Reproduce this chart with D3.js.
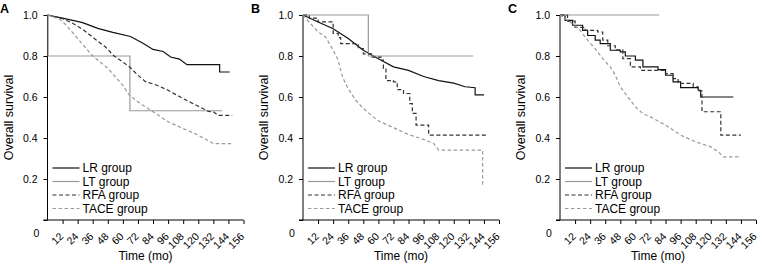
<!DOCTYPE html>
<html>
<head>
<meta charset="utf-8">
<script src="https://cdn.jsdelivr.net/npm/d3@7"></script>
<style>
  body { margin: 0; background: #fff; }
  text { font-family: "Liberation Sans", Arial, sans-serif; }
</style>
</head>
<body>
<svg id="chart" width="762" height="265"></svg>
<script>
// months on the x axis
var xTicks = [12, 24, 36, 48, 60, 72, 84, 96, 108, 120, 132, 144, 156];
var yTicks = [0.2, 0.4, 0.6, 0.8, 1.0];
var panels = ['A', 'B', 'C'];
var groups = ['LR group', 'LT group', 'RFA group', 'TACE group'];

// survival curves, [month, survival]
var lrA = [[0,1],[12,0.985],[28,0.963],[40,0.935],[52,0.915],[66,0.895],[76,0.862],[84,0.832],[92,0.822],[98,0.795],[105,0.785],[111,0.758],[137,0.758],[137,0.722],[145,0.722]];
var ltA = [[0,1],[0.5,0.8],[65.6,0.533],[139,0.533]];
var rfaA = [[0,1],[12,0.982],[20,0.96],[28,0.93],[39,0.877],[46,0.845],[53,0.8],[60,0.77],[65.6,0.745],[72,0.706],[78,0.675],[86,0.66],[96,0.633],[108,0.592],[120,0.555],[128,0.53],[132,0.528],[136,0.51],[147,0.51]];
var taceA = [[0,1],[9.6,0.98],[15,0.95],[24,0.885],[36,0.8],[48,0.74],[60,0.657],[65,0.61],[72,0.576],[84,0.528],[96,0.479],[108,0.446],[120,0.414],[132,0.373],[147,0.373]];

var lrB = [[0,1],[12,0.966],[24,0.933],[36,0.885],[48,0.828],[60,0.787],[72,0.747],[84,0.73],[96,0.7],[108,0.68],[120,0.668],[129,0.65],[137,0.645],[137,0.61],[144,0.61]];
var ltB = [[0,1],[52,0.8],[135.5,0.8]];
var rfaB = [[0,1],[5,0.985],[12,0.966],[24,0.91],[28,0.89],[30,0.86],[44,0.836],[48,0.81],[55,0.795],[62,0.78],[64,0.74],[66,0.68],[72,0.674],[75,0.636],[80,0.617],[85,0.568],[87,0.52],[90,0.463],[100,0.414],[147,0.414]];
var taceB = [[0,1],[6,0.958],[12,0.917],[18,0.893],[24,0.828],[28,0.78],[30,0.73],[32,0.69],[36,0.64],[42,0.584],[48,0.544],[56,0.503],[60,0.484],[72,0.45],[84,0.417],[96,0.393],[104,0.373],[108,0.341],[143,0.341],[143,0.175],[144,0.175]];

var lrC = [[0,1],[4,0.974],[10,0.95],[18,0.925],[22,0.9],[28,0.877],[32,0.86],[40,0.828],[48,0.82],[52,0.8],[60,0.78],[66,0.747],[78,0.734],[84,0.706],[90,0.674],[96,0.646],[110,0.633],[112,0.6],[138,0.6]];
var ltC = [[0,1],[79,1]];
var rfaC = [[0,1],[6,0.97],[12,0.94],[20,0.925],[30,0.917],[34,0.877],[38,0.85],[44,0.83],[50,0.787],[56,0.747],[64,0.73],[84,0.714],[90,0.69],[94,0.666],[106,0.65],[110,0.63],[113,0.528],[128,0.414],[144,0.414]];
var taceC = [[0,1],[8,0.966],[16,0.925],[22,0.877],[28,0.836],[34,0.787],[40,0.747],[44,0.706],[48,0.65],[54,0.6],[60,0.552],[66,0.519],[72,0.503],[84,0.463],[96,0.414],[108,0.381],[120,0.357],[126,0.333],[130,0.308],[144,0.308]];

var panelData = [
    [lrA, ltA, rfaA, taceA],
    [lrB, ltB, rfaB, taceB],
    [lrC, ltC, rfaC, taceC]
];
// which curves are drawn as coarse steps (the rest are dense steps drawn as lines)
var stepped = [
    [false, true, false, false],
    [false, true, true, false],
    [true, true, true, false]
];

var styles = [
    {color: '#111', dash: null},
    {color: '#999', dash: null},
    {color: '#333', dash: '4,2.5'},
    {color: '#9a9a9a', dash: '3.5,2.5'}
];

var axisLeft = [47.5, 303, 560];
var letterX = [0, 251, 508];
var plotTop = 15, plotBottom = 220, plotW = 196;

var svg = d3.select('#chart');

panels.forEach(function(name, p) {
    var x0 = axisLeft[p];
    var x = d3.scaleLinear().domain([0, 156]).range([x0, x0 + plotW]);
    var y = d3.scaleLinear().domain([0, 1]).range([plotBottom, plotTop]);

    var g = svg.append('g');

    // panel letter
    g.append('text')
        .attr('x', letterX[p])
        .attr('y', 13)
        .attr('font-size', '12.5px')
        .attr('font-weight', 'bold')
        .text(name);

    // y axis
    var yAxis = g.append('g')
        .attr('transform', 'translate(' + x0 + ',0)')
        .call(d3.axisLeft(y).tickValues([0].concat(yTicks)).tickSize(4).tickPadding(6)
            .tickFormat(function(d) { return d === 0 ? '' : d3.format('.1f')(d); }));
    yAxis.select('.domain').remove();
    yAxis.append('line')
        .attr('x1', 0).attr('x2', 0)
        .attr('y1', plotTop).attr('y2', plotBottom)
        .attr('stroke', '#000');
    yAxis.selectAll('text')
        .attr('font-size', '10.5px')
        .attr('fill', '#000')
        .style('font-family', '"Liberation Sans", Arial, sans-serif');

    // x axis
    var xAxis = g.append('g')
        .attr('transform', 'translate(0,' + plotBottom + ')')
        .call(d3.axisBottom(x).tickValues(xTicks).tickSize(4).tickSizeOuter(0));
    xAxis.select('.domain').attr('d', 'M' + (x0 - 4) + ',0H' + (x0 + plotW));
    xAxis.selectAll('text')
        .attr('font-size', '10.5px')
        .attr('fill', '#000')
        .style('font-family', '"Liberation Sans", Arial, sans-serif')
        .attr('text-anchor', 'end')
        .attr('y', 0)
        .attr('dy', '0')
        .attr('transform', 'translate(1,17) rotate(-45)');

    g.append('text')
        .attr('x', x0 - 14)
        .attr('y', 237)
        .attr('font-size', '10.5px')
        .text('0');

    // axis titles
    g.append('text')
        .attr('x', x0 + plotW / 2)
        .attr('y', 260)
        .attr('text-anchor', 'middle')
        .attr('font-size', '12px')
        .text('Time (mo)');
    g.append('text')
        .attr('transform', 'translate(' + (x0 - 35) + ',' + ((plotTop + plotBottom) / 2) + ') rotate(-90)')
        .attr('text-anchor', 'middle')
        .attr('font-size', '12.5px')
        .text('Overall survival');

    // curves
    panelData[p].forEach(function(series, s) {
        var line = d3.line()
            .x(function(d) { return x(d[0]); })
            .y(function(d) { return y(d[1]); })
            .curve(stepped[p][s] ? d3.curveStepAfter : d3.curveLinear);
        g.append('path')
            .datum(series)
            .attr('fill', 'none')
            .attr('stroke', styles[s].color)
            .attr('stroke-width', 1.2)
            .attr('stroke-dasharray', styles[s].dash)
            .attr('d', line);
    });

    // legend
    var leg = g.selectAll('.leg')
        .data(groups)
        .enter()
        .append('g')
        .attr('transform', function(d, i) { return 'translate(' + (x0 + 5) + ',' + (168 + i * 13.5) + ')'; });
    leg.append('line')
        .attr('x1', 0).attr('x2', 27)
        .attr('y1', 0).attr('y2', 0)
        .attr('stroke', function(d, i) { return styles[i].color; })
        .attr('stroke-width', 1.2)
        .attr('stroke-dasharray', function(d, i) { return styles[i].dash; });
    leg.append('text')
        .attr('x', 30)
        .attr('y', 4)
        .attr('font-size', '12px')
        .text(function(d) { return d; });
});
</script>
</body>
</html>
